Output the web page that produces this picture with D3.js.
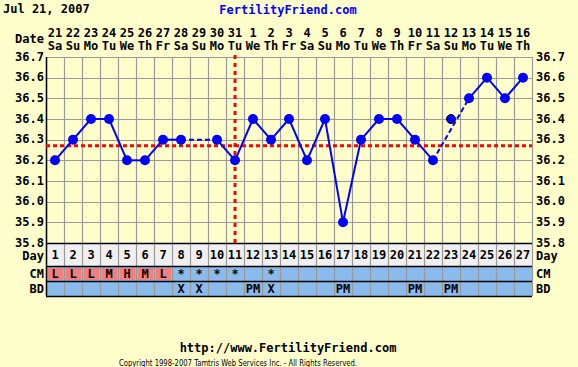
<!DOCTYPE html>
<html>
<head>
<meta charset="utf-8">
<script src="https://cdn.jsdelivr.net/npm/d3@7"></script>
<style>
body { margin: 0; background: #ffffcc; }
text { font-family: "DejaVu Sans Mono", monospace; font-weight: bold; font-size: 12px; }
</style>
</head>
<body>
<script>
var width = 578,
    height = 367;

var cycleDays = d3.range(1, 28);
var dateNums = ['21','22','23','24','25','26','27','28','29','30','31','1','2','3','4','5','6','7','8','9','10','11','12','13','14','15','16'];
var weekdays = ['Sa','Su','Mo','Tu','We','Th','Fr','Sa','Su','Mo','Tu','We','Th','Fr','Sa','Su','Mo','Tu','We','Th','Fr','Sa','Su','Mo','Tu','We','Th'];
// null = no reading
var temps = [36.2, 36.3, 36.4, 36.4, 36.2, 36.2, 36.3, 36.3, null, 36.3, 36.2, 36.4, 36.3, 36.4, 36.2, 36.4, 35.9, 36.3, 36.4, 36.4, 36.3, 36.2, 36.4, 36.5, 36.6, 36.5, 36.6];
var discarded = [23];
var cmLabels = ['L','L','L','M','H','M','L','*','*','*','*','','*','','','','','','','','','','','','','',''];
var bdLabels = ['','','','','','','','X','X','','','PM','X','','','','PM','','','','PM','','PM','','','',''];
var yTicks = [35.8, 35.9, 36.0, 36.1, 36.2, 36.3, 36.4, 36.5, 36.6, 36.7];
var coverline = 36.27;
var ovulationDay = 11;

var svg = d3.select('body')
    .append('svg')
    .attr('width', width)
    .attr('height', height);

svg.append('rect').attr('width', width).attr('height', height).attr('fill', '#ffffcc');

var x = d3.scaleBand().domain(cycleDays).range([46, 532]);
var y = d3.scaleLinear().domain([35.8, 36.7]).range([243, 57]);
var cx = function (d) { return x(d) + x.bandwidth() / 2; };

var rowDay = [243, 266], rowCM = [266, 281], rowBD = [281, 296];

// header
svg.append('text').attr('x', 3).attr('y', 13).text('Jul 21, 2007');
svg.append('text').attr('x', 288).attr('y', 14).attr('text-anchor', 'middle')
    .attr('fill', '#0000ff').text('FertilityFriend.com');
svg.append('text').attr('x', 44).attr('y', 43).attr('text-anchor', 'end').text('Date');

svg.selectAll('.dn').data(cycleDays).enter().append('text')
    .attr('x', cx).attr('y', 37).attr('text-anchor', 'middle')
    .text(function (d, i) { return dateNums[i]; });
svg.selectAll('.wd').data(cycleDays).enter().append('text')
    .attr('x', cx).attr('y', 50).attr('text-anchor', 'middle')
    .text(function (d, i) { return weekdays[i]; });

// table rows
svg.append('rect').attr('x', 46).attr('y', rowDay[0]).attr('width', 486).attr('height', rowDay[1] - rowDay[0]).attr('fill', '#f0f0f0');
svg.append('rect').attr('x', 46).attr('y', rowCM[0]).attr('width', 486).attr('height', rowBD[1] - rowCM[0]).attr('fill', '#8abbec');
svg.selectAll('.cmcell').data(cycleDays.filter(function (d, i) { return /[LMH]/.test(cmLabels[i]); }))
    .enter().append('rect')
    .attr('x', function (d) { return x(d) + 2; }).attr('y', rowCM[0] + 2)
    .attr('width', x.bandwidth() - 3).attr('height', rowCM[1] - rowCM[0] - 3)
    .attr('fill', '#f08080');

// grid
svg.selectAll('.hg').data(yTicks).enter().append('line')
    .attr('x1', 46).attr('x2', 532).attr('y1', function (d) { return Math.round(y(d)) + 0.5; })
    .attr('y2', function (d) { return Math.round(y(d)) + 0.5; })
    .attr('stroke', '#999999').attr('stroke-width', 1.2);
svg.selectAll('.vg').data(cycleDays.concat([28])).enter().append('line')
    .attr('x1', function (d) { return 46 + (d - 1) * x.bandwidth() + 0.5; })
    .attr('x2', function (d) { return 46 + (d - 1) * x.bandwidth() + 0.5; })
    .attr('y1', 57).attr('y2', 296)
    .attr('stroke', '#999999').attr('stroke-width', 1.2);
[rowDay[0], rowCM[0], rowBD[0], rowBD[1]].forEach(function (yy) {
    svg.append('line').attr('x1', 46).attr('x2', 532).attr('y1', yy + 0.5).attr('y2', yy + 0.5)
        .attr('stroke', '#000').attr('stroke-width', 1.5);
});
svg.append('line').attr('x1', 46.5).attr('x2', 46.5).attr('y1', 57).attr('y2', 296).attr('stroke', '#000').attr('stroke-width', 1.5);

// axis labels
svg.selectAll('.yl').data(yTicks).enter().append('text')
    .attr('x', 44).attr('y', function (d) { return y(d) + 3.5; }).attr('text-anchor', 'end')
    .text(function (d) { return d.toFixed(1); });
svg.selectAll('.yr').data(yTicks).enter().append('text')
    .attr('x', 536).attr('y', function (d) { return y(d) + 3.5; })
    .text(function (d) { return d.toFixed(1); });

[['Day', 260], ['CM', 278], ['BD', 293]].forEach(function (r) {
    svg.append('text').attr('x', 44).attr('y', r[1]).attr('text-anchor', 'end').text(r[0]);
    svg.append('text').attr('x', 536).attr('y', r[1]).text(r[0]);
});

svg.selectAll('.day').data(cycleDays).enter().append('text')
    .attr('x', cx).attr('y', 259).attr('text-anchor', 'middle').text(function (d) { return d; });
svg.selectAll('.cm').data(cycleDays).enter().append('text')
    .attr('x', cx).attr('y', 278).attr('text-anchor', 'middle').attr('font-size', '11px')
    .text(function (d, i) { return cmLabels[i]; });
svg.selectAll('.bd').data(cycleDays).enter().append('text')
    .attr('x', cx).attr('y', 293).attr('text-anchor', 'middle').attr('font-size', '11px')
    .text(function (d, i) { return bdLabels[i]; });

// coverline and ovulation line
svg.append('line').attr('x1', 46).attr('x2', 532).attr('y1', y(coverline)).attr('y2', y(coverline))
    .attr('stroke', '#ff0000').attr('stroke-width', 3).attr('stroke-dasharray', '4,3');
svg.append('line').attr('x1', cx(ovulationDay)).attr('x2', cx(ovulationDay)).attr('y1', 55).attr('y2', 243)
    .attr('stroke', '#ff0000').attr('stroke-width', 3).attr('stroke-dasharray', '4,4');

// temperature line
var pts = cycleDays.map(function (d, i) { return { day: d, t: temps[i] }; })
    .filter(function (p) { return p.t !== null; });
var kept = pts.filter(function (p) { return discarded.indexOf(p.day) < 0; });
for (var i = 0; i < kept.length - 1; i++) {
    var a = kept[i], b = kept[i + 1];
    var gap = b.day - a.day > 1;
    svg.append('line')
        .attr('x1', cx(a.day)).attr('y1', y(a.t))
        .attr('x2', cx(b.day)).attr('y2', y(b.t))
        .attr('stroke', '#0000ff').attr('stroke-width', 2)
        .attr('stroke-dasharray', gap ? '5,3' : null);
}

svg.selectAll('.pt').data(pts).enter().append('circle')
    .attr('cx', function (d) { return cx(d.day); })
    .attr('cy', function (d) { return y(d.t); })
    .attr('r', function (d) { return discarded.indexOf(d.day) >= 0 ? 4.5 : 5; })
    .attr('fill', '#0000ff')
    .attr('stroke', function (d) { return discarded.indexOf(d.day) >= 0 ? '#000' : 'none'; })
    .attr('stroke-width', 1);

// footer
svg.append('text').attr('x', 288).attr('y', 352).attr('text-anchor', 'middle').text('http://www.FertilityFriend.com');
svg.append('text').attr('x', 119).attr('y', 366)
    .style('font-family', 'DejaVu Sans').style('font-weight', 'normal').style('font-size', '8px')
    .attr('textLength', 238).attr('lengthAdjust', 'spacingAndGlyphs')
    .text('Copyright 1998-2007 Tamtris Web Services Inc. - All Rights Reserved.');
</script>
</body>
</html>
